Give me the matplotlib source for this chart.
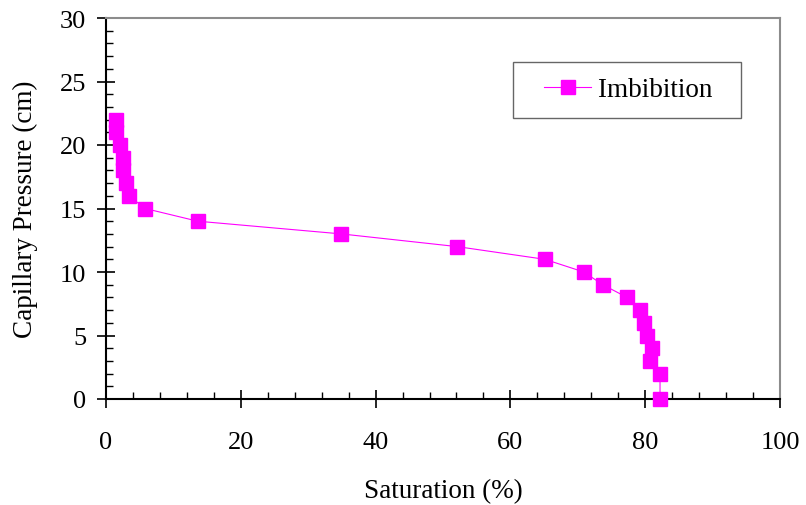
import matplotlib.pyplot as plt
from matplotlib.ticker import MultipleLocator
from matplotlib.lines import Line2D
from matplotlib.legend_handler import HandlerLine2D

plt.rcParams['font.family'] = ['Liberation Serif', 'DejaVu Serif']

# imbibition curve
saturation = [1.5, 1.5, 2.1, 2.5, 2.5, 3.0, 3.4, 5.8, 13.6, 34.9, 52.1, 65.1,
              70.9, 73.7, 77.3, 79.2, 79.8, 80.3, 81.0, 80.7, 82.2, 82.2]
pressure = [22, 21, 20, 19, 18, 17, 16, 15, 14, 13, 12, 11,
            10, 9, 8, 7, 6, 5, 4, 3, 2, 0]

fig = plt.figure(figsize=(8.06, 5.06), dpi=100)
ax = fig.add_axes([106/806, 1 - 400/506, 674/806, 381/506])

ax.plot(saturation, pressure, color='#FF00FF', lw=0.8, marker='s',
        markersize=9.5, markeredgecolor='#FF00FF', label='Imbibition  ',
        clip_on=False, zorder=3)

ax.set_xlim(0, 100)
ax.set_ylim(0, 30)
ax.xaxis.set_major_locator(MultipleLocator(20))
ax.xaxis.set_minor_locator(MultipleLocator(4))
ax.yaxis.set_major_locator(MultipleLocator(5))
ax.yaxis.set_minor_locator(MultipleLocator(1))
ax.tick_params(which='major', direction='inout', length=12.5, width=1.2,
               labelsize=19)
ax.tick_params(which='minor', direction='in', length=5, width=1)
ax.tick_params(axis='x', which='major', pad=17)
ax.tick_params(axis='y', which='major', pad=8)

for s in ['top', 'right']:
    ax.spines[s].set_color('#8c8c8c')
    ax.spines[s].set_linewidth(1.5)
for s in ['left', 'bottom']:
    ax.spines[s].set_linewidth(1.5)

ax.set_xlabel('Saturation (%)', fontsize=19.5, labelpad=18)
ax.set_ylabel('Capillary Pressure (cm)', fontsize=19.5, labelpad=16)

leg = ax.legend(loc='upper left', bbox_to_anchor=(0.604, 0.8845), fontsize=19.5,
                frameon=True, fancybox=False, handlelength=2.31,
                handletextpad=0.26, borderpad=0.57, borderaxespad=0,
                handler_map={Line2D: HandlerLine2D(xpad=0.57)})
leg.get_frame().set_edgecolor('#404040')
leg.get_frame().set_linewidth(1.0)

fig.savefig('out.png', dpi=100)
